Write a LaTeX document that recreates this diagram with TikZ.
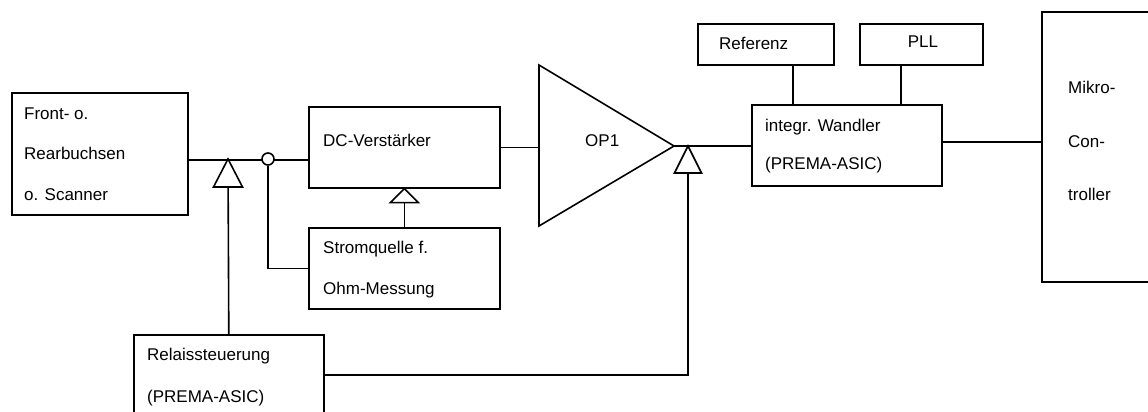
\documentclass[tikz,border=0pt]{standalone}
\usepackage{fontspec}
\setmainfont{Liberation Sans}
\begin{document}
\begin{tikzpicture}[x=1pt,y=-1pt,
  box/.style={draw, line width=1.6pt, anchor=north west, inner sep=0pt},
  wire/.style={line width=1.6pt},
  tri/.style={draw, line width=1.6pt, fill=white, line join=miter},
  lbl/.style={anchor=base west, inner sep=0pt, font=\fontsize{17pt}{20pt}\selectfont},
  lblc/.style={anchor=base, inner sep=0pt, font=\fontsize{17pt}{20pt}\selectfont}]
\clip (0,0) rectangle (1148,412);
\fill[white] (0,0) rectangle (1148,412);
% boxes
\node[box, minimum width=176pt, minimum height=122pt] (front) at (11,92) {};
\node[box, minimum width=191pt, minimum height=81pt] (dc) at (308,106) {};
\node[box, minimum width=191pt, minimum height=81pt] (strom) at (308,227) {};
\node[box, minimum width=190pt, minimum height=100pt] (relais) at (133,334) {};
\node[box, minimum width=136pt, minimum height=41pt] (ref) at (697,23) {};
\node[box, minimum width=123pt, minimum height=41pt] (pll) at (859,23) {};
\node[box, minimum width=190pt, minimum height=81pt] (integr) at (751,104) {};
\node[box, minimum width=130pt, minimum height=270pt] (mikro) at (1041,11) {};
% op amp
\coordinate (opa) at (539,65);
\coordinate (opb) at (539,226);
\coordinate (opout) at (674,146);
\draw[tri] (opa) -- (opb) -- (opout) -- cycle;
% junction points
\coordinate (t1) at (228,159);
\coordinate (t3) at (688,146);
% wires
\draw[wire] ([yshift=-6pt]front.east) -- ([yshift=-6pt]front.east -| dc.west);
\draw[wire] (relais.north) -- (t1);
\node[draw, circle, line width=1.6pt, fill=white, minimum size=12pt, inner sep=0pt] (circ) at (268,159) {};
\draw[wire] (circ.south) |- (strom.west);
\draw[wire] (strom.north) -- (dc.south);
\draw[wire] (dc.east) -- (dc.east -| opa);
\draw[wire] (opout) -- (opout -| integr.west);
\draw[wire] ([yshift=10pt]relais.east) -| (t3);
\draw[wire] ([xshift=27pt]ref.south) -- ([xshift=27pt]ref.south |- integr.north);
\draw[wire] ([xshift=-20.5pt]pll.south) -- ([xshift=-20.5pt]pll.south |- integr.north);
\draw[wire] ([yshift=3.5pt]integr.east) -- ([yshift=3.5pt]integr.east -| mikro.west);
% relay triangles
\draw[tri] (t1) -- ++(-14.5,28) -- ++(29,0) -- cycle;
\draw[tri] (dc.south) -- ++(-14,14) -- ++(28,0) -- cycle;
\draw[tri] (t3) -- ++(-13.5,27) -- ++(27,0) -- cycle;
% texts
\node[lbl] (front1) at (24,119) {Front- o.};
\node[lbl] (front2) at (24,159) {Rearbuchsen};
\node[lbl] (front3) at (24,200) {o. Scanner};
\node[lbl] (dct) at (323,146) {DC-Verstärker};
\node[lbl] (strom1) at (323,253) {Stromquelle f.};
\node[lbl] (strom2) at (323,294) {Ohm-Messung};
\node[lbl] (opt) at (585,146) {OP1};
\node[lbl] (reft) at (719,50) {Referenz};
\node[lblc] (pllt) at (923,48) {PLL};
\node[lbl] (int1) at (765,131) {integr. Wandler};
\node[lbl] (int2) at (765,169) {(PREMA-ASIC)};
\node[lbl] (mik1) at (1068,93) {Mikro-};
\node[lbl] (mik2) at (1068,147) {Con-};
\node[lbl] (mik3) at (1068,200) {troller};
\node[lbl] (rel1) at (147,360) {Relaissteuerung};
\node[lbl] (rel2) at (147,402) {(PREMA-ASIC)};
\end{tikzpicture}
\end{document}
